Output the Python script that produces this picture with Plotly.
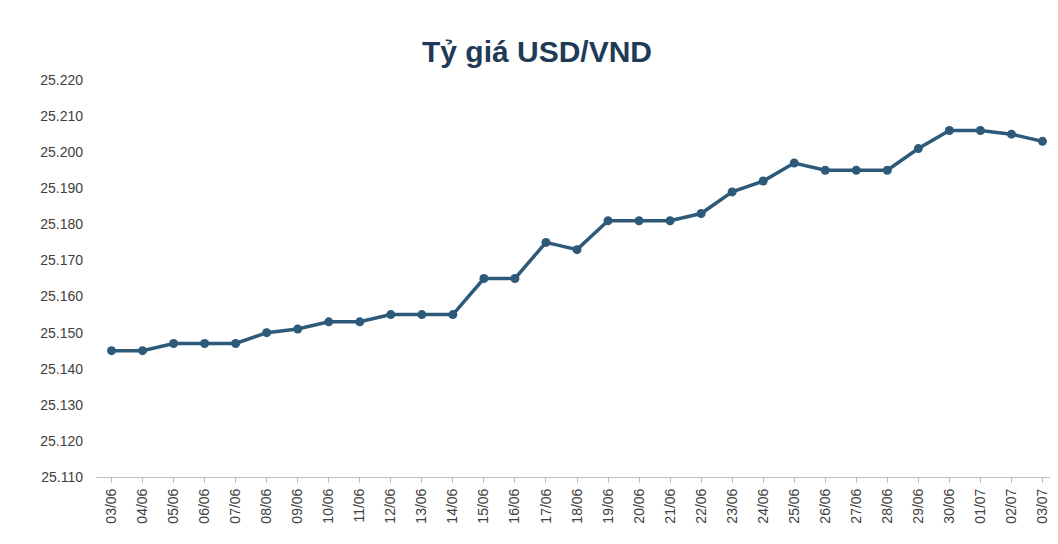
import plotly.graph_objects as go

dates = ["03/06", "04/06", "05/06", "06/06", "07/06", "08/06", "09/06", "10/06",
         "11/06", "12/06", "13/06", "14/06", "15/06", "16/06", "17/06", "18/06",
         "19/06", "20/06", "21/06", "22/06", "23/06", "24/06", "25/06", "26/06",
         "27/06", "28/06", "29/06", "30/06", "01/07", "02/07", "03/07"]
rates = [25145, 25145, 25147, 25147, 25147, 25150, 25151, 25153,
         25153, 25155, 25155, 25155, 25165, 25165, 25175, 25173,
         25181, 25181, 25181, 25183, 25189, 25192, 25197, 25195,
         25195, 25195, 25201, 25206, 25206, 25205, 25203]

color = "#2E5A7A"

fig = go.Figure(go.Scatter(
    x=dates, y=rates, mode="lines+markers",
    line=dict(color=color, width=3.5),
    marker=dict(color=color, size=9),
))

fig.update_layout(
    width=1058, height=544,
    paper_bgcolor="white", plot_bgcolor="white",
    separators=",.",
    showlegend=False,
    margin=dict(l=88, r=8, t=72, b=75, autoexpand=False),
    font=dict(family="Liberation Sans Narrow, Liberation Sans, Arial", size=14, color="#404040"),
    title=dict(text="<b>Tỷ giá USD/VND</b>", x=0.5, y=0.94, xanchor="center",
               font=dict(size=30, color="#1F3B57")),
)
fig.update_xaxes(
    type="category", tickangle=-90, showgrid=False, automargin=False,
    showline=True, linecolor="#BFBFBF", ticks="outside", tickcolor="#BFBFBF",
    ticklen=5, range=[-0.5, len(dates) - 0.5],
)
fig.update_yaxes(
    range=[25110, 25220], dtick=10, tickformat=",d", showgrid=False,
    showline=False, zeroline=False, automargin=False, ticklabelstandoff=12,
)

fig.write_html("out.html")
